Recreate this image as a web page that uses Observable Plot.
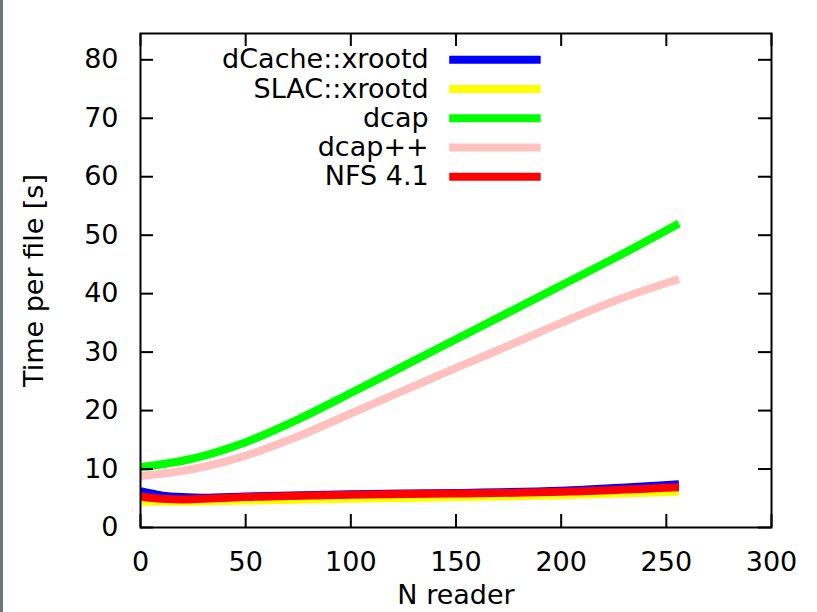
<!DOCTYPE html>
<html>
<head>
<meta charset="utf-8">
<script src="https://cdn.jsdelivr.net/npm/d3@7"></script>
<script src="https://cdn.jsdelivr.net/npm/@observablehq/plot@0.6"></script>
<style>
  html, body { margin: 0; padding: 0; background: #fff; }
  #wrap { position: relative; width: 817px; height: 612px; overflow: hidden; }
  #edge { position: absolute; left: 0; top: 0; width: 3px; height: 612px; background: #6a7878; }
</style>
</head>
<body>
<div id="wrap"><div id="edge"></div><div id="chart"></div></div>
<script>
// ---- data ----
const seriesNames = ["dCache::xrootd", "SLAC::xrootd", "dcap", "dcap++", "NFS 4.1"];
const seriesColors = ["#0000ff", "#ffff00", "#00ff00", "#ffc0c0", "#ff0000"];

const nBlue   = [0, 10, 20, 30, 50, 100, 150, 200, 256];
const tBlue   = [6.2, 5.5, 5.2, 5.1, 5.3, 5.7, 5.9, 6.3, 7.4];
const nYellow = [0, 10, 20, 50, 100, 150, 200, 256];
const tYellow = [4.5, 4.4, 4.4, 4.6, 4.9, 5.2, 5.5, 6.1];
const nGreen  = [0, 25, 50, 75, 100, 125, 150, 175, 200, 225, 256];
const tGreen  = [10.3, 11.8, 14.6, 18.5, 23.0, 27.6, 32.2, 36.8, 41.4, 46.0, 52.0];
const nPink   = [0, 25, 50, 75, 100, 125, 150, 175, 200, 225, 256];
const tPink   = [8.8, 10.0, 12.3, 15.6, 19.5, 23.4, 27.3, 31.1, 35.0, 38.7, 42.5];
const nRed    = [0, 10, 20, 30, 50, 100, 150, 200, 256];
const tRed    = [5.3, 4.9, 4.8, 4.9, 5.2, 5.6, 5.8, 6.1, 6.9];

const xTicks = [0, 50, 100, 150, 200, 250, 300];
const yTicks = [0, 10, 20, 30, 40, 50, 60, 70, 80];
const xLabel = "N reader";
const yLabel = "Time per file [s]";

// ---- build ----
const seriesN = [nBlue, nYellow, nGreen, nPink, nRed];
const seriesT = [tBlue, tYellow, tGreen, tPink, tRed];
const rows = [];
seriesNames.forEach((name, i) => {
  seriesN[i].forEach((n, j) => rows.push({series: name, n, t: seriesT[i][j]}));
});

const W = 817, H = 612;
const mL = 140, mR = 46, mT = 33, mB = 85;
const innerW = W - mL - mR, innerH = H - mT - mB;
const tick = 13;
const font = "DejaVu Sans, sans-serif";
const fs = 27;
const yMax = 84.5;

// legend layout (gnuplot-style key inside the frame)
const legend = seriesNames.map((name, i) => ({name, color: seriesColors[i], y: 80 - 5 * i}));

const marks = [];
seriesNames.forEach((name, i) => {
  marks.push(Plot.line(rows.filter(d => d.series === name), {
    x: "n", y: "t", stroke: seriesColors[i], strokeWidth: 8, curve: "monotone-x", strokeLinecap: "butt"
  }));
});

const chart = Plot.plot({
  width: W, height: H,
  marginLeft: mL, marginRight: mR, marginTop: mT, marginBottom: mB,
  style: {fontFamily: font, fontSize: fs + "px", background: "#fff", color: "#000"},
  x: {domain: [0, 300], axis: null},
  y: {domain: [0, yMax], axis: null},
  marks: [
    ...marks,
    // ticks, inward on all four sides
    Plot.ruleX(xTicks, {x: d => d, y1: yMax, y2: 0, insetTop: innerH - tick, stroke: "#000", strokeWidth: 2}),
    Plot.ruleX(xTicks, {x: d => d, y1: yMax, y2: 0, insetBottom: innerH - tick, stroke: "#000", strokeWidth: 2}),
    Plot.ruleY(yTicks, {y: d => d, x1: 0, x2: 300, insetRight: innerW - tick, stroke: "#000", strokeWidth: 2}),
    Plot.ruleY(yTicks, {y: d => d, x1: 0, x2: 300, insetLeft: innerW - tick, stroke: "#000", strokeWidth: 2}),
    Plot.frame({stroke: "#000", strokeWidth: 2}),
    // tick labels
    Plot.axisX(xTicks, {anchor: "bottom", tickSize: 0, tickPadding: 24, fontSize: fs, label: null, tickFormat: d => String(d)}),
    Plot.axisY(yTicks, {anchor: "left", tickSize: 0, tickPadding: 22, fontSize: fs, label: null, tickFormat: d => String(d)}),
    // axis titles
    Plot.text([xLabel], {frameAnchor: "bottom", dy: 76, lineAnchor: "bottom", textAnchor: "middle", fontSize: fs, text: d => d}),
    Plot.text([yLabel], {frameAnchor: "left", dx: -106, rotate: -90, textAnchor: "middle", lineAnchor: "middle", fontSize: fs, text: d => d}),
    // legend
    Plot.text(legend, {x: 137, y: "y", text: "name", textAnchor: "end", fontSize: fs, fill: "#000"}),
    Plot.ruleY(legend, {y: "y", x1: 147, x2: 190.5, stroke: "color", strokeWidth: 8})
  ]
});
document.getElementById("chart").appendChild(chart);
</script>
</body>
</html>
